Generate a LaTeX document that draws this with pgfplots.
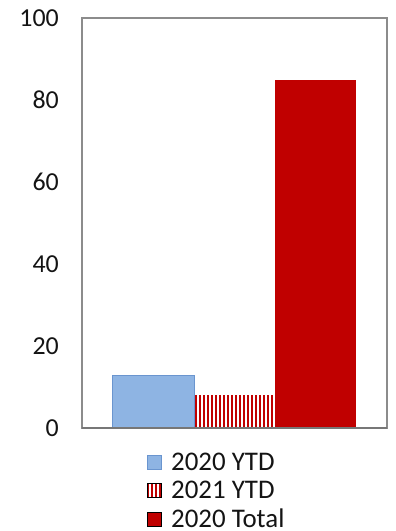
\documentclass[border=0pt]{standalone}
\usepackage{pgfplots}
\pgfplotsset{compat=1.18}
\usepackage{fontspec}
\setmainfont{Carlito}
\usetikzlibrary{patterns.meta}
\definecolor{ytdblue}{HTML}{8EB4E3}
\definecolor{ytdedge}{HTML}{6A95CF}
\definecolor{darkred}{HTML}{C00000}
\definecolor{framegray}{HTML}{8C8C8C}
\definecolor{txt}{HTML}{141414}
\begin{document}
\begin{tikzpicture}
\begin{axis}[
  name=ax,
  at={(0,0)}, anchor=south west,
  scale only axis,
  width=305bp, height=410bp,
  xmin=-0.8827, xmax=2.8827,
  ymin=0, ymax=100,
  ytick={0,20,40,60,80,100},
  xtick=\empty,
  major tick length=0pt,
  axis line style={framegray, line width=1.4bp},
  tick label style={font=\fontsize{26}{29}\selectfont, text=txt},
  /pgf/number format/assume math mode=true,
  yticklabel style={inner sep=0pt, xshift=-23bp},
  legend style={
    at={(0,0)}, anchor=north west,
    xshift=65bp, yshift=-23bp,
    draw=none, fill=none,
    font=\fontsize{27}{30}\selectfont, text=txt,
    row sep=5bp,
    inner sep=0pt,
  },
  legend cell align=left,
  legend image code/.code={\draw[#1] (0bp,-7bp) rectangle (14bp,7bp); \path (21bp,0bp);},
]
\addplot[ybar, bar width=1, bar shift=0pt, fill=ytdblue, draw=ytdedge, line width=1bp]
  coordinates {(0,12.7)};
\addlegendentry{2020 YTD}
\addplot[ybar, bar width=1, bar shift=0pt, draw=none,
  pattern={Lines[angle=90, distance=4bp, line width=1.7bp]}, pattern color=darkred]
  coordinates {(1,8.0)};
\addlegendentry{2021 YTD}
\addplot[ybar, bar width=1, bar shift=0pt, fill=darkred, draw=none]
  coordinates {(2,84.9)};
\addlegendentry{2020 Total}
\draw[framegray!85!black, line width=2.4bp] (rel axis cs:0,0) -- (rel axis cs:1,0);
\end{axis}
\pgfresetboundingbox
\path[use as bounding box] ([shift={(-82bp,-103bp)}]ax.south west) rectangle ([shift={(9bp,18bp)}]ax.north east);
\end{tikzpicture}
\end{document}
